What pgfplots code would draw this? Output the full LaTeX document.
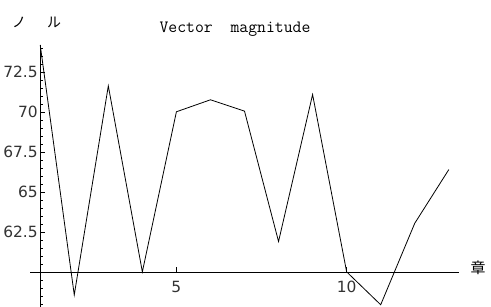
\documentclass[border=0pt]{standalone}
\usepackage{pgfplots}
\pgfplotsset{compat=1.18}
\usetikzlibrary{calc}
\usepackage{fontspec}
\setmainfont{DejaVu Sans}
\newfontfamily\cjk{Noto Sans CJK JP}
\begin{document}
\begin{tikzpicture}
\begin{axis}[
  scale only axis, width=429bp, height=262bp,
  xmin=-0.3, xmax=12.3, ymin=-2.2, ymax=14.2,
  axis lines=middle, axis line style={-, line width=0.7bp, black},
  x filter/.expression={x-1}, y filter/.expression={y-60},
  xtick={4,9}, xticklabels={5,10},
  ytick={2.5,5,7.5,10,12.5}, yticklabels={62.5,65,67.5,70,72.5},
  minor ytick={-2,-1.5,...,14},
  tick style={black, line width=0.5bp},
  major tick length=5bp, minor tick length=3bp,
  tick align=inside,
  ticklabel style={font=\fontsize{15.5}{15.5}\selectfont, text=black!80},
  xticklabel style={yshift=-6bp},
  yticklabel style={xshift=1bp},
  clip=false,
]
\addplot[black, line width=0.8bp] coordinates {(1,74.2)(2,58.56)(3,71.64)(4,60.0)(5,70.02)(6,70.77)(7,70.06)(8,61.9)(9,71.1)(10,60.0)(11,57.94)(12,63.04)(13,66.4)};
\coordinate (bl) at (rel axis cs:0,0);
\end{axis}
\node[font=\ttfamily\fontsize{17.3}{17.3}\selectfont, inner sep=0pt] at ($(bl)+(205bp,278bp)$) {Vector\ \ magnitude};
\node[font=\cjk\fontsize{14}{14}\selectfont, inner sep=0pt] at ($(bl)+(-11bp,285bp)$) {ノ};
\node[font=\cjk\fontsize{14}{14}\selectfont, inner sep=0pt] at ($(bl)+(24bp,285bp)$) {ル};
\node[font=\cjk\fontsize{15}{15}\selectfont, inner sep=0pt] at ($(bl)+(448bp,39.5bp)$) {章};
\pgfresetboundingbox
\useasboundingbox ($(bl)+(-30bp,0)$) rectangle ++(491bp,307bp);
\end{tikzpicture}
\end{document}
